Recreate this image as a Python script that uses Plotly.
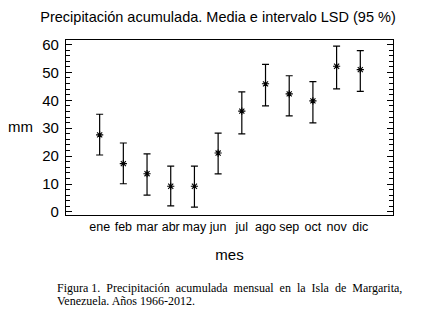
import plotly.graph_objects as go

months = ["ene", "feb", "mar", "abr", "may", "jun", "jul", "ago", "sep", "oct", "nov", "dic"]
means = [27.6, 17.3, 13.7, 9.2, 9.2, 21.1, 36.1, 45.9, 42.3, 39.8, 52.2, 51.0]
upper = [35.0, 24.7, 20.8, 16.4, 16.4, 28.2, 43.0, 52.9, 48.8, 46.7, 59.4, 57.8]
lower = [20.4, 10.1, 6.0, 2.2, 1.7, 13.6, 28.0, 38.0, 34.4, 31.9, 44.1, 43.2]
yticks = [0, 10, 20, 30, 40, 50, 60]

xs = list(range(len(months)))
err_plus = [u - m for u, m in zip(upper, means)]
err_minus = [m - l for m, l in zip(means, lower)]

fig = go.Figure()
fig.add_trace(go.Scatter(
    x=xs, y=means, mode="markers",
    marker=dict(symbol="asterisk-open", size=6, color="black",
                line=dict(color="black", width=1.1)),
    error_y=dict(type="data", symmetric=False, array=err_plus, arrayminus=err_minus,
                 color="black", thickness=1.2, width=3.5),
    showlegend=False,
))

fig.update_layout(
    width=434, height=311,
    margin=dict(l=66, r=41, t=40, b=96, autoexpand=False),
    paper_bgcolor="white", plot_bgcolor="white",
    font=dict(family="Liberation Sans, Arial", color="black"),
    title=dict(text="Precipitación acumulada. Media e intervalo LSD (95 %)",
               x=218 / 434, xanchor="center", y=1 - 17 / 311, yanchor="middle",
               font=dict(size=14.5, color="black")),
)

fig.update_xaxes(
    range=[-1.42, 12.38], tickmode="array", tickvals=xs, ticktext=months,
    tickangle=0, automargin=False,
    ticks="", showgrid=False, zeroline=False,
    showline=True, linecolor="black", linewidth=1.3, mirror=True,
    tickfont=dict(size=12.5, color="black"),
    title=dict(text="mes", font=dict(size=15, color="black"), standoff=16),
)
fig.update_yaxes(
    range=[-1.1, 61.6], tickmode="array", tickvals=yticks, automargin=False,
    ticks="inside", ticklen=6, tickwidth=1, tickcolor="black",
    minor=dict(dtick=2, ticks="inside", ticklen=3.5, tickwidth=1, tickcolor="black", showgrid=False),
    showgrid=False, zeroline=False,
    showline=True, linecolor="black", linewidth=1.3, mirror="ticks",
    tickfont=dict(size=15, color="black"),
    ticklabelstandoff=3,
)

fig.add_annotation(text="mm", xref="paper", yref="paper",
                   x=-60 / 327, y=(215 - 127) / 174.5,
                   xanchor="left", yanchor="middle", showarrow=False,
                   font=dict(size=15, color="black"))

cap_font = dict(family="Liberation Serif, Times New Roman", size=12, color="black")
fig.add_annotation(text="Figura 1.  Precipitación  acumulada  mensual  en  la  Isla  de  Margarita,",
                   xref="paper", yref="paper", x=(55 - 66) / 327, y=-(288 - 215) / 174.5,
                   xanchor="left", yanchor="middle", showarrow=False, font=cap_font)
fig.add_annotation(text="Venezuela. Años 1966-2012.",
                   xref="paper", yref="paper", x=(55 - 66) / 327, y=-(301 - 215) / 174.5,
                   xanchor="left", yanchor="middle", showarrow=False, font=cap_font)

fig.write_html("out.html", config={"displayModeBar": False},
               post_script="document.body.style.margin='0';")
